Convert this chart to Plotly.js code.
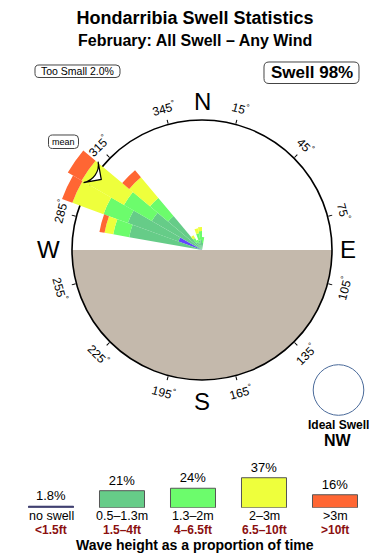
<!DOCTYPE html>
<html><head><meta charset="utf-8">
<script src="https://cdn.plot.ly/plotly-3.0.1.min.js"></script>
<style>html,body{margin:0;padding:0;background:#fff}#chart{width:390px;height:560px}</style>
</head><body><div id="chart"></div>
<script>
// ---- data (percent of time) ----
const dirBins   = [285, 295, 305, 315, 325, 335, 345, 355, 5];
const noSwell   = [0,   0.9, 0,   0,   0,    0,    0,    0,    0];
const h05to13   = [7.8, 8.0, 4.8, 2.8, 0.12, 0.09, 0.14, 0.14, 0.07];
const h13to2    = [3.8, 6.8, 6.8, 3.8, 0.16, 0.08, 0.27, 0.38, 0.17];
const h2to3     = [2.4, 11.5,16.0,6.3, 0.13, 0,    0.28, 0.24, 0];
const hOver3    = [1.5, 4.5, 6.7, 2.6, 0,    0,    0,    0,    0];
const meanDir   = 305;
const legendCats = ['no swell', '0.5–1.3m', '1.3–2m', '2–3m', '&gt;3m'];
const legendFt   = ['&lt;1.5ft', '1.5–4ft', '4–6.5ft', '6.5–10ft', '&gt;10ft'];
const legendPct  = [1.8, 21, 24, 37, 16];
const angTicks   = [15, 45, 75, 105, 135, 165, 195, 225, 255, 285, 315, 345];
const compassTxt = ['N', 'E', 'S', 'W'];
const compassDeg = [0, 90, 180, 270];
const tooSmallPct = 2.0, swellPct = 98, idealDir = 'NW';

// ---- style ----
const W = 390, H = 560;
const FONT = 'Liberation Sans, Arial, Helvetica, sans-serif';
const cx = 202, cy = 250, R1 = 130, R2 = 170;
const K = Math.sqrt(700);             // px per sqrt(%)
const colors = ['#6444ff', '#66cc88', '#6cfc6c', '#eeff3c', '#ff6633'];
const px = x => x / W, py = y => 1 - y / H;

// stacked, area-proportional wedges
const series = [noSwell, h05to13, h13to2, h2to3, hOver3];
const cum = dirBins.map(() => 0);
const traces = [];
// ground (lower half of compass)
traces.push({type: 'barpolar', subplot: 'polar', r: [1], theta: [180], width: [180],
  marker: {color: '#c4b9ac', line: {width: 0}}, hoverinfo: 'skip'});
series.forEach((s, i) => {
  const base = cum.map(c => Math.sqrt(c));
  s.forEach((v, j) => { cum[j] += v; });
  const top = cum.map(c => Math.sqrt(c));
  traces.push({type: 'barpolar', subplot: 'polar2', theta: dirBins,
    base: base, r: top.map((t, j) => t - base[j]),
    width: dirBins.map(() => 10),
    marker: {color: colors[i], line: {width: 0}}, hoverinfo: 'skip'});
});
// mean direction arrow
traces.push({type: 'scatterpolar', subplot: 'polar2', mode: 'markers',
  r: [123 / K], theta: [meanDir],
  marker: {symbol: 'arrow-wide', size: 18, angle: meanDir - 180, color: '#fff',
           line: {color: '#000', width: 1.2}}, hoverinfo: 'skip'});
// legend bars
traces.push({type: 'bar', xaxis: 'x2', yaxis: 'y2', x: legendPct.map((v, i) => i), y: legendPct,
  width: 0.634, cliponaxis: false,
  text: legendPct.map(v => v + '%'), textposition: 'outside',
  textfont: {size: 13, color: '#000', family: FONT},
  marker: {color: colors.map((c, i) => i === 0 ? '#333366' : c),
           line: {color: legendPct.map((v, i) => i === 0 ? '#333366' : '#555'), width: 1}},
  hoverinfo: 'skip'});

const annotations = [];
function note(o) {
  annotations.push(Object.assign({xref: 'paper', yref: 'paper', showarrow: false,
    xanchor: 'center', yanchor: 'middle'}, o));
}
// rounded label boxes
const shapes = [];
function roundBox(x0, y0, x1, y1, r) {
  const P = (x, y) => px(x).toFixed(5) + ',' + py(y).toFixed(5);
  const path = 'M' + P(x0 + r, y0) + ' L' + P(x1 - r, y0) + ' Q' + P(x1, y0) + ' ' + P(x1, y0 + r) +
    ' L' + P(x1, y1 - r) + ' Q' + P(x1, y1) + ' ' + P(x1 - r, y1) +
    ' L' + P(x0 + r, y1) + ' Q' + P(x0, y1) + ' ' + P(x0, y1 - r) +
    ' L' + P(x0, y0 + r) + ' Q' + P(x0, y0) + ' ' + P(x0 + r, y0) + ' Z';
  shapes.push({type: 'path', xref: 'paper', yref: 'paper', path: path,
    line: {color: '#444', width: 1}, fillcolor: '#fff', layer: 'above'});
}
roundBox(35, 65, 120, 77.5, 4);
roundBox(264, 62, 359, 83.5, 5);
roundBox(48.5, 135, 78.5, 148.5, 4);

note({text: '<b>February: All Swell – Any Wind</b>', x: 0.5, y: py(41), font: {size: 16, color: '#000'}});
note({text: 'Too Small ' + tooSmallPct.toFixed(1) + '%', x: px(77.5), y: py(71.3), font: {size: 10.5, color: '#000'}});
note({text: '<b>Swell ' + swellPct + '%</b>', x: px(311.5), y: py(72.8), font: {size: 17, color: '#000'}});
note({text: 'mean', x: px(63.5), y: py(141.8), font: {size: 9, color: '#000'}});
const compassR = [149, 146, 151, 154];
compassTxt.forEach((t, i) => {
  const b = compassDeg[i] * Math.PI / 180;
  note({text: t, x: px(cx + compassR[i] * Math.sin(b)), y: py(cy - compassR[i] * Math.cos(b)),
    font: {size: 24, color: '#000'}});
});
angTicks.forEach(d => {
  const b = d * Math.PI / 180;
  let a = d; if (a > 90 && a <= 270) a -= 180; else if (a > 270) a -= 360;
  note({text: d + '<sup>°</sup>', x: px(cx + 147 * Math.sin(b)), y: py(cy - 147 * Math.cos(b)),
    textangle: a, font: {size: 12, color: '#000'}});
});
note({text: '<b>Ideal Swell</b>', x: px(338), y: py(425), font: {size: 12, color: '#000'}});
note({text: '<b>' + idealDir + '</b>', x: px(338), y: py(440), font: {size: 16, color: '#000'}});
legendCats.forEach((t, i) => {
  note({text: t, xref: 'x2', x: i, y: py(515.5), font: {size: 12.5, color: '#000'}});
});
legendFt.forEach((t, i) => {
  note({text: '<b>' + t + '</b>', xref: 'x2', x: i, y: py(529.5), font: {size: 12, color: '#8b1010'}});
});
note({text: '<b>Wave height as a proportion of time</b>', x: 0.5, y: py(544.5), font: {size: 14, color: '#000'}});

const layout = {
  width: W, height: H, margin: {l: 0, r: 0, t: 0, b: 0}, showlegend: false,
  paper_bgcolor: '#fff', font: {family: FONT, color: '#000'},
  title: {text: '<b>Hondarribia Swell Statistics</b>', x: 0.5, xanchor: 'center',
          y: py(18), yanchor: 'middle', font: {size: 18, color: '#000'}},
  polar: {
    domain: {x: [px(cx - R1), px(cx + R1)], y: [py(cy + R1), py(cy - R1)]},
    bgcolor: '#fff', barmode: 'overlay', bargap: 0,
    angularaxis: {direction: 'clockwise', rotation: 90, showgrid: false, showticklabels: false,
      tickvals: angTicks, ticks: 'outside', ticklen: 4, tickcolor: '#000', tickwidth: 1,
      showline: true, linecolor: '#000', linewidth: 1.6, layer: 'above traces'},
    radialaxis: {visible: false, range: [0, 1]}
  },
  polar2: {
    domain: {x: [px(cx - R2), px(cx + R2)], y: [py(cy + R2), py(cy - R2)]},
    bgcolor: 'rgba(0,0,0,0)', barmode: 'overlay', bargap: 0,
    angularaxis: {direction: 'clockwise', rotation: 90, visible: false, showgrid: false, showline: false},
    radialaxis: {visible: false, range: [0, R2 / K], showgrid: false}
  },
  xaxis2: {domain: [px(15.5), px(370.5)], anchor: 'y2', range: [-0.5, 4.5],
    showticklabels: false, showgrid: false, zeroline: false, showline: false, ticks: '',
    fixedrange: true},
  yaxis2: {domain: [py(507.7), py(475.3)], anchor: 'x2', range: [0, 40], visible: false, fixedrange: true},
  shapes: shapes.concat([{type: 'circle', xref: 'paper', yref: 'paper',
    x0: px(313.2), x1: px(363.8), y0: py(415.3), y1: py(364.7),
    line: {color: '#4a6a9a', width: 1}}]),
  annotations: annotations
};
Plotly.newPlot('chart', traces, layout, {staticPlot: true, displayModeBar: false});
</script></body></html>
